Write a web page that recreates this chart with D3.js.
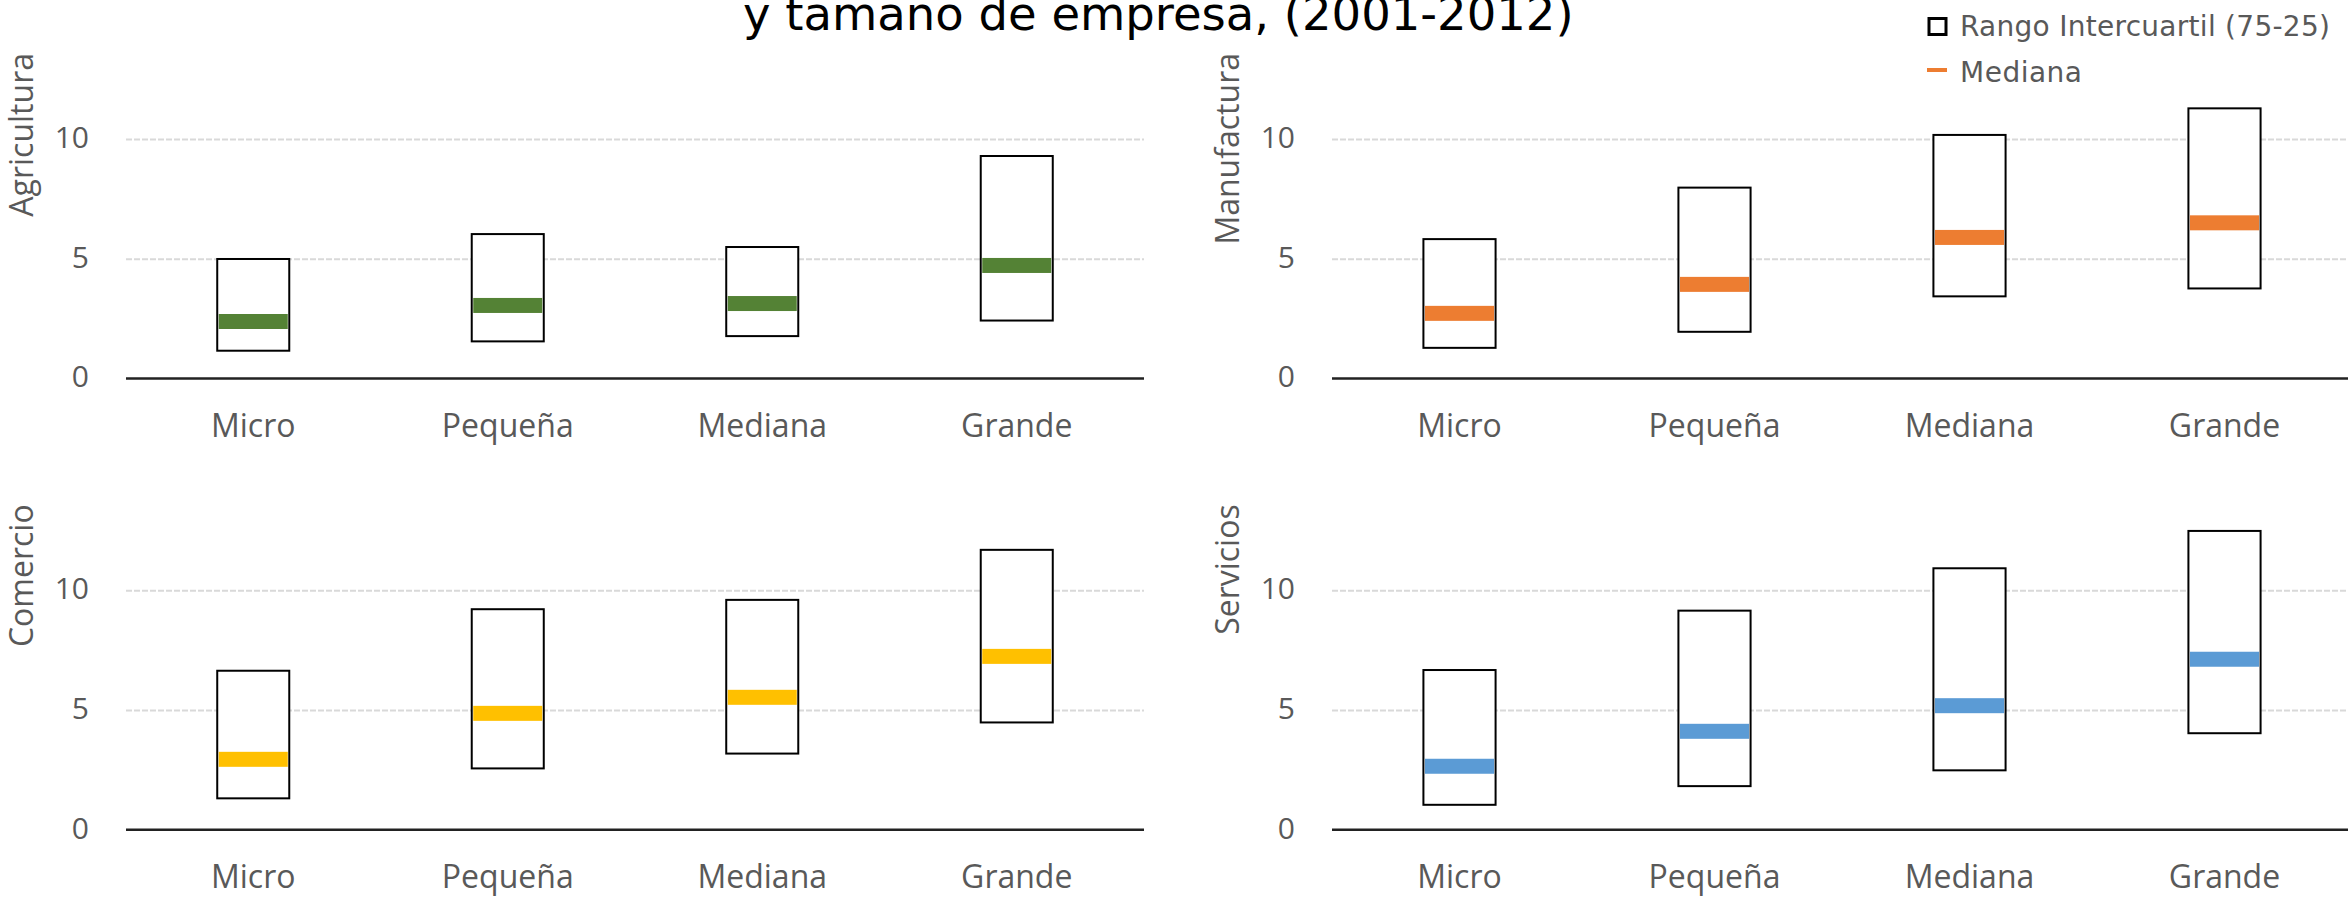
<!DOCTYPE html>
<html>
<head>
<meta charset="utf-8">
<script src="https://cdn.jsdelivr.net/npm/d3@7"></script>
<style>
  html, body { margin: 0; padding: 0; background: #ffffff; }
  svg { display: block; }
</style>
</head>
<body>
<svg id="chart" width="2348" height="900"></svg>
<script>
// ---------------- DATA ----------------
const categories = ["Micro", "Pequeña", "Mediana", "Grande"];
const yTicks = [0, 5, 10];

const agriculturaP75 = [4.99, 6.03, 5.49, 9.29];
const agriculturaP25 = [1.16, 1.55, 1.77, 2.42];
const agriculturaMediana = [2.38, 3.05, 3.13, 4.72];

const manufacturaP75 = [5.82, 7.97, 10.17, 11.28];
const manufacturaP25 = [1.28, 1.95, 3.43, 3.76];
const manufacturaMediana = [2.72, 3.93, 5.89, 6.50];

const comercioP75 = [6.64, 9.21, 9.60, 11.69];
const comercioP25 = [1.31, 2.56, 3.18, 4.48];
const comercioMediana = [2.94, 4.86, 5.53, 7.24];

const serviciosP75 = [6.67, 9.15, 10.92, 12.48];
const serviciosP25 = [1.04, 1.82, 2.48, 4.03];
const serviciosMediana = [2.65, 4.11, 5.18, 7.12];

const titleText = "y tamaño de empresa, (2001-2012)";
const legendBoxLabel = "Rango Intercuartil (75-25)";
const legendMedLabel = "Mediana";

// ---------------- LAYOUT ----------------
const panels = [
  { name: "Agricultura", p75: agriculturaP75, p25: agriculturaP25, med: agriculturaMediana, color: "#548235", x0: 126, x1: 1144, y0: 378.5, y10: 139 },
  { name: "Manufactura", p75: manufacturaP75, p25: manufacturaP25, med: manufacturaMediana, color: "#ED7D31", x0: 1332, x1: 2352, y0: 378.5, y10: 139 },
  { name: "Comercio", p75: comercioP75, p25: comercioP25, med: comercioMediana, color: "#FFC000", x0: 126, x1: 1144, y0: 829.7, y10: 590.3 },
  { name: "Servicios", p75: serviciosP75, p25: serviciosP25, med: serviciosMediana, color: "#5B9BD5", x0: 1332, x1: 2352, y0: 829.7, y10: 590.3 }
];

const svg = d3.select("#chart");
svg.append("rect").attr("width", 2348).attr("height", 900).attr("fill", "#fff");

const grey = "#595959";
const labelFont = "'Open Sans', sans-serif";

panels.forEach(p => {
  const g = svg.append("g");
  const x = d3.scaleBand().domain(categories).range([p.x0, p.x1])
    .paddingInner(0.717).paddingOuter(0.3585);
  const y = d3.scaleLinear().domain([0, 10]).range([p.y0, p.y10]);
  const xEnd = Math.min(p.x1, 2348);

  // gridlines + tick labels
  const yAxis = d3.axisLeft(y).tickValues(yTicks).tickSize(-(xEnd - p.x0)).tickPadding(37);
  const ga = g.append("g").attr("transform", `translate(${p.x0},0)`).call(yAxis);
  ga.select(".domain").remove();
  ga.selectAll(".tick line")
    .attr("stroke", "#d9d9d9").attr("stroke-width", 2).attr("stroke-dasharray", "6,2")
    .filter(d => d === 0).remove();
  ga.selectAll(".tick text")
    .attr("fill", grey).attr("font-family", labelFont).attr("font-size", 30)
    .attr("dy", "0.28em");

  // zero axis line
  g.append("line")
    .attr("x1", p.x0).attr("x2", xEnd)
    .attr("y1", y(0)).attr("y2", y(0))
    .attr("stroke", "#222").attr("stroke-width", 2.5);

  // category labels
  const xAxis = d3.axisBottom(x).tickSize(0);
  const gx = g.append("g").attr("transform", `translate(0,${y(0)})`).call(xAxis);
  gx.select(".domain").remove();
  gx.selectAll(".tick text")
    .attr("fill", grey).attr("font-family", labelFont).attr("font-size", 32)
    .attr("y", 58).attr("dy", null);

  // y title (top-anchored)
  g.append("text")
    .attr("transform", `translate(${p.x0 - 93},${p.y10 - 86}) rotate(-90)`)
    .attr("text-anchor", "end")
    .attr("fill", grey).attr("font-family", labelFont).attr("font-size", 32)
    .text(p.name);

  // boxes (interquartile range) and median bands
  categories.forEach((c, i) => {
    g.append("rect")
      .attr("x", x(c)).attr("width", x.bandwidth())
      .attr("y", y(p.p75[i])).attr("height", y(p.p25[i]) - y(p.p75[i]))
      .attr("fill", "#fff").attr("stroke", "#000").attr("stroke-width", 2);
    g.append("rect")
      .attr("x", x(c) + 1.5).attr("width", x.bandwidth() - 3)
      .attr("y", y(p.med[i]) - 7.5).attr("height", 15)
      .attr("fill", p.color);
  });
});

// title (partially cut off at the top, as in the reference)
svg.append("text")
  .attr("x", 743).attr("y", 30)
  .attr("font-family", "'DejaVu Sans', sans-serif").attr("font-size", 46.5)
  .attr("fill", "#000")
  .text(titleText);

// legend
const lg = svg.append("g");
lg.append("rect").attr("x", 1929).attr("y", 18.5).attr("width", 17).attr("height", 16)
  .attr("fill", "#fff").attr("stroke", "#000").attr("stroke-width", 3);
lg.append("text").attr("x", 1960).attr("y", 36)
  .attr("font-family", "'DejaVu Sans', sans-serif").attr("font-size", 28).attr("fill", grey)
  .attr("textLength", 370).attr("lengthAdjust", "spacing")
  .text(legendBoxLabel);
lg.append("rect").attr("x", 1927).attr("y", 68).attr("width", 20).attr("height", 4)
  .attr("fill", "#ED7D31");
lg.append("text").attr("x", 1960).attr("y", 82)
  .attr("font-family", "'DejaVu Sans', sans-serif").attr("font-size", 28).attr("fill", grey)
  .attr("textLength", 122).attr("lengthAdjust", "spacing")
  .text(legendMedLabel);
</script>
</body>
</html>
